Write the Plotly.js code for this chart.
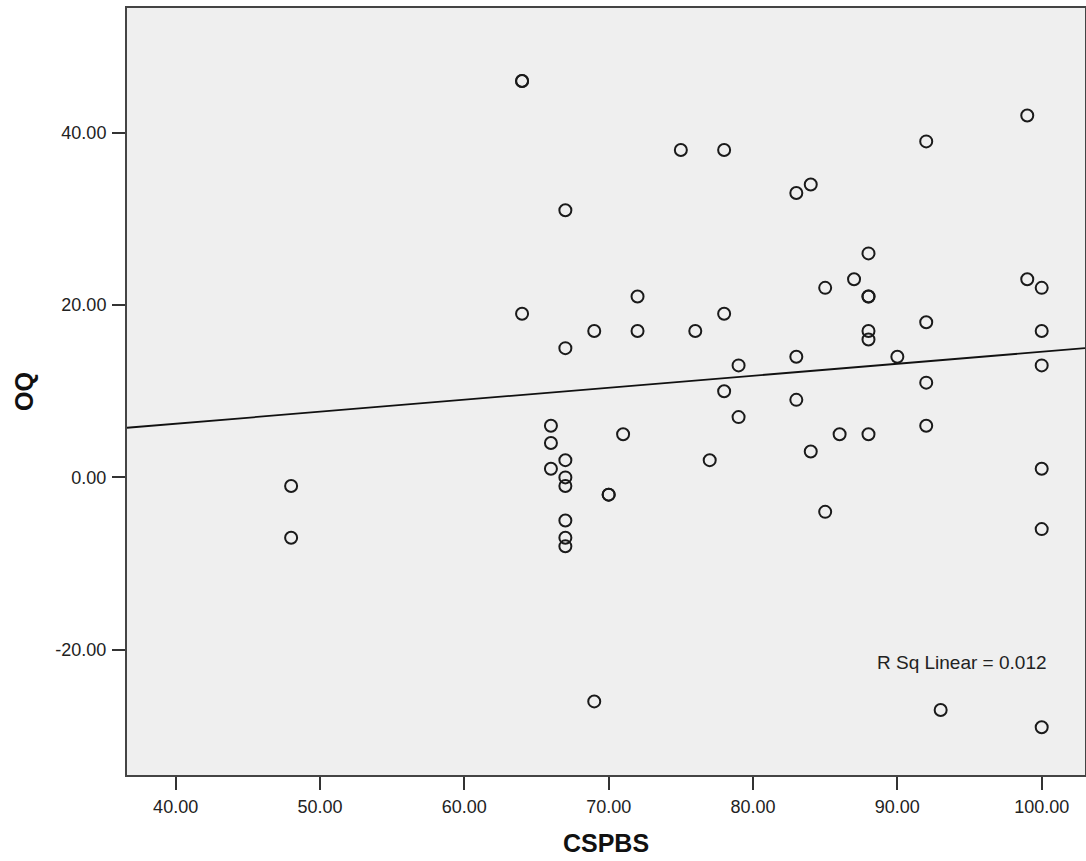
<!DOCTYPE html>
<html>
<head>
<meta charset="utf-8">
<script src="https://cdn.plot.ly/plotly-3.0.1.min.js"></script>
<style>html,body{margin:0;padding:0;background:#fff;}#chart{width:1086px;height:861px;}</style>
</head>
<body>
<div id="chart"></div>
<script>
// CSPBS (x) and OQ (y) values
const cspbs = [48,48,64,64,64,66,66,66,67,67,67,67,67,67,67,67,69,69,70,70,71,72,72,75,76,77,78,78,78,79,79,83,83,83,84,84,85,85,86,87,88,88,88,88,88,88,90,92,92,92,92,93,99,99,100,100,100,100,100,100];
const oq    = [-1,-7,46,46,19,6,4,1,31,15,2,0,-1,-5,-7,-8,17,-26,-2,-2,5,21,17,38,17,2,38,19,10,13,7,33,14,9,34,3,22,-4,5,23,26,21,21,17,16,5,14,39,18,11,6,-27,42,23,22,17,13,1,-6,-29];
const xTicks = [40,50,60,70,80,90,100];
const xTickLabels = ["40.00","50.00","60.00","70.00","80.00","90.00","100.00"];
const yTicks = [-20,0,20,40];
const yTickLabels = ["-20.00","0.00","20.00","40.00"];
const rSqLabel = "R Sq Linear = 0.012";
const xRange = [36.63, 103.0];
const yRange = [-34.54, 54.48];

// least-squares fit line
const n = cspbs.length;
const mx = cspbs.reduce((a,b)=>a+b,0)/n;
const my = oq.reduce((a,b)=>a+b,0)/n;
let sxy=0, sxx=0;
for (let i=0;i<n;i++){ sxy+=(cspbs[i]-mx)*(oq[i]-my); sxx+=(cspbs[i]-mx)**2; }
const slope = sxy/sxx, icpt = my - slope*mx;
const fitX = xRange.slice();
const fitY = fitX.map(v => icpt + slope*v);

const fam = 'Arial, "Liberation Sans", sans-serif';
const tickFont = {family: fam, color: '#222', size: 18};
const titleFont = {family: fam, size: 25, color: '#111', weight: 'bold'};

const data = [
  {x: fitX, y: fitY, mode: 'lines', type: 'scatter', line: {color: '#111', width: 1.8}, hoverinfo: 'skip'},
  {x: cspbs, y: oq, mode: 'markers', type: 'scatter',
   marker: {symbol: 'circle-open', size: 12, color: '#1a1a1a', line: {width: 2, color: '#1a1a1a'}}}
];

const layout = {
  width: 1086, height: 861,
  margin: {l: 127, r: 1, t: 8, b: 86},
  paper_bgcolor: '#ffffff',
  plot_bgcolor: '#efefef',
  showlegend: false,
  font: tickFont,
  xaxis: {
    range: xRange, tickvals: xTicks, ticktext: xTickLabels,
    ticks: 'outside', ticklen: 13, tickwidth: 2, tickcolor: '#333',
    showline: true, linecolor: '#444', linewidth: 2, mirror: true,
    showgrid: false, zeroline: false,
    ticklabelstandoff: 1,
    tickfont: tickFont,
    title: {text: 'CSPBS', font: titleFont, standoff: 19}
  },
  yaxis: {
    range: yRange, tickvals: yTicks, ticktext: yTickLabels,
    ticks: 'outside', ticklen: 13, tickwidth: 2, tickcolor: '#333',
    showline: true, linecolor: '#444', linewidth: 2, mirror: true,
    showgrid: false, zeroline: false,
    ticklabelstandoff: 2,
    tickfont: tickFont,
    title: {text: 'OQ', font: titleFont, standoff: 15}
  },
  annotations: [{
    x: 94.46, y: -21.45, xref: 'x', yref: 'y', text: rSqLabel, showarrow: false,
    font: {family: fam, size: 19, color: '#222'}
  }]
};

Plotly.newPlot('chart', data, layout, {displayModeBar: false, staticPlot: true});
</script>
</body>
</html>
